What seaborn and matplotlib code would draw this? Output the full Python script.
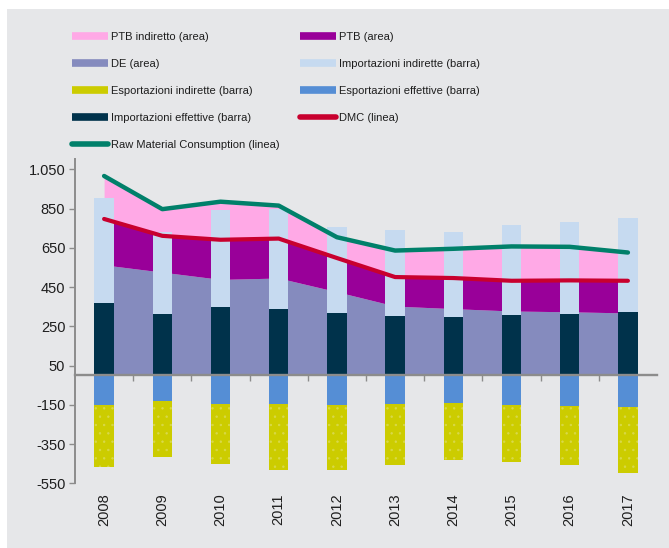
import numpy as np
import pandas as pd
import matplotlib
matplotlib.use("Agg")
import matplotlib.pyplot as plt
import matplotlib.transforms as mtransforms
from matplotlib.lines import Line2D
from matplotlib.patches import Rectangle
from matplotlib.ticker import FuncFormatter, FixedLocator
import seaborn as sns

# ---------------- data ----------------
years = ["2008", "2009", "2010", "2011", "2012", "2013", "2014", "2015", "2016", "2017"]
de_area = [563, 526, 489, 496, 426, 353, 340, 328, 324, 318]
ptb_area = [234, 185, 202, 201, 172, 148, 156, 154, 160, 164]
ptb_ind_area = [219, 136, 194, 168, 106, 135, 149, 175, 171, 144]
imp_eff = [370, 314, 346, 340, 318, 301, 296, 308, 313, 324]
imp_ind = [536, 419, 497, 507, 437, 440, 437, 459, 471, 478]
exp_eff = [-152, -132, -147, -147, -152, -147, -141, -152, -158, -159]
exp_ind = [-315, -283, -305, -336, -328, -309, -289, -288, -298, -336]
dmc = [797, 711, 691, 697, 598, 501, 496, 482, 484, 482]
rmc = [1016, 847, 885, 865, 704, 636, 645, 657, 655, 626]
y_ticks = [-550, -350, -150, 50, 250, 450, 650, 850, 1050]

labels = {
    "ptb_ind": "PTB indiretto (area)",
    "ptb": "PTB (area)",
    "de": "DE (area)",
    "imp_ind": "Importazioni indirette (barra)",
    "exp_ind": "Esportazioni indirette (barra)",
    "exp_eff": "Esportazioni effettive (barra)",
    "imp_eff": "Importazioni effettive (barra)",
    "dmc": "DMC (linea)",
    "rmc": "Raw Material Consumption (linea)",
}
colors = {
    "ptb_ind": "#ffa9e6",
    "ptb": "#990099",
    "de": "#858bbe",
    "imp_ind": "#c6daf0",
    "exp_ind": "#cccc00",
    "exp_eff": "#558ed5",
    "imp_eff": "#00324b",
    "dmc": "#c8002e",
    "rmc": "#00806a",
}

df = pd.DataFrame({
    "year": years,
    "de": de_area, "ptb": ptb_area, "ptb_ind": ptb_ind_area,
    "imp_eff": imp_eff, "imp_ind": imp_ind,
    "exp_eff": exp_eff, "exp_ind": exp_ind,
    "dmc": dmc, "rmc": rmc,
})
df["pos"] = np.arange(len(df))
df["imp_tot"] = df["imp_eff"] + df["imp_ind"]
df["exp_tot"] = df["exp_eff"] + df["exp_ind"]

# ---------------- style ----------------
sns.set_theme(style="white")
plt.rcParams["font.family"] = ["Liberation Sans", "DejaVu Sans"]
plt.rcParams["hatch.linewidth"] = 0.5
text_color = "#1e1e1e"
axis_gray = "#8c8c8c"

fig = plt.figure(figsize=(6.69, 5.48), dpi=100, facecolor="white")
fig.patches.append(Rectangle((7 / 669, 0), 1, (548 - 9) / 548, transform=fig.transFigure,
                             facecolor="#e6e7e9", edgecolor="none", zorder=-10))
ax = fig.add_axes([75 / 669, 1 - 483.3 / 548, 582 / 669, (483.3 - 159.5) / 548])
ax.set_facecolor("none")
ax.set_zorder(1)

# ---------------- stacked areas ----------------
ax.stackplot(df["pos"], df["de"], df["ptb"], df["ptb_ind"],
             colors=[colors["de"], colors["ptb"], colors["ptb_ind"]],
             linewidth=0, zorder=1)

# ---------------- stacked bars ----------------
bw = 0.335
sns.barplot(data=df, x="year", y="imp_tot", order=years, color=colors["imp_ind"],
            saturation=1, width=bw, errorbar=None, linewidth=0, ax=ax, zorder=2)
sns.barplot(data=df, x="year", y="imp_eff", order=years, color=colors["imp_eff"],
            saturation=1, width=bw, errorbar=None, linewidth=0, ax=ax, zorder=2)
sns.barplot(data=df, x="year", y="exp_tot", order=years, color=colors["exp_ind"],
            saturation=1, width=bw, errorbar=None, linewidth=0, hatch="..",
            edgecolor="#d9d94a", ax=ax, zorder=2)
sns.barplot(data=df, x="year", y="exp_eff", order=years, color=colors["exp_eff"],
            saturation=1, width=bw, errorbar=None, linewidth=0, ax=ax, zorder=2)

# ---------------- lines ----------------
sns.lineplot(data=df, x="pos", y="rmc", color=colors["rmc"], linewidth=3.2,
             solid_capstyle="round", ax=ax, zorder=4)
sns.lineplot(data=df, x="pos", y="dmc", color=colors["dmc"], linewidth=3.0,
             solid_capstyle="round", ax=ax, zorder=4)

# ---------------- axes ----------------
ax.set_xlim(-0.5, len(years) - 0.5)
ax.set_ylim(-550, 1100)
ax.set_xlabel("")
ax.set_ylabel("")
for s in ["top", "right"]:
    ax.spines[s].set_visible(False)
ax.spines["left"].set_color(axis_gray)
ax.spines["left"].set_linewidth(1.4)
ax.spines["bottom"].set_position(("data", 0))
ax.spines["bottom"].set_color(axis_gray)
ax.spines["bottom"].set_linewidth(1.7)
ax.spines["bottom"].set_zorder(5)

ax.yaxis.set_major_locator(FixedLocator(y_ticks))
ax.yaxis.set_major_formatter(FuncFormatter(lambda v, p: f"{int(v):,}".replace(",", ".")))
ax.tick_params(axis="y", direction="out", length=4, width=1, color=axis_gray,
               labelsize=10.5, labelcolor=text_color, pad=3, left=True)

ax.xaxis.set_major_locator(FixedLocator(list(df["pos"][:-1] + 0.5)))
ax.set_xticklabels([""] * (len(years) - 1))
ax.tick_params(axis="x", direction="out", length=4, width=1, color=axis_gray, bottom=True)

trans = mtransforms.blended_transform_factory(ax.transData, ax.transAxes)
for p, yr in zip(df["pos"], years):
    ax.text(p, -0.03, yr, transform=trans, rotation=90, ha="center", va="top",
            fontsize=10.5, color=text_color)

# ---------------- legend ----------------
def patch_handle(key):
    return Line2D([0], [0], color=colors[key], linewidth=5.5, solid_capstyle="butt")

def line_handle(key):
    return Line2D([0], [0], color=colors[key], linewidth=4.0, solid_capstyle="round")

col1 = ["ptb_ind", "de", "exp_ind", "imp_eff", "rmc"]
col2 = ["ptb", "imp_ind", "exp_eff", "dmc"]
fs = 8.0
prop = dict(family=["Liberation Sans"], size=fs)
for keys, xa in [(col1, 72 / 669), (col2, 300 / 669)]:
    hs = [line_handle(k) if k in ("dmc", "rmc") else patch_handle(k) for k in keys]
    leg = fig.legend(hs, [labels[k] for k in keys], loc="upper left",
                     bbox_to_anchor=(xa, 1 - 32 / 548), frameon=False, prop=prop,
                     handlelength=3.24, handletextpad=0.27, labelspacing=1.53,
                     borderpad=0, borderaxespad=0)
    for t in leg.get_texts():
        t.set_color(text_color)

fig.savefig("out.png", dpi=100, facecolor="white")
